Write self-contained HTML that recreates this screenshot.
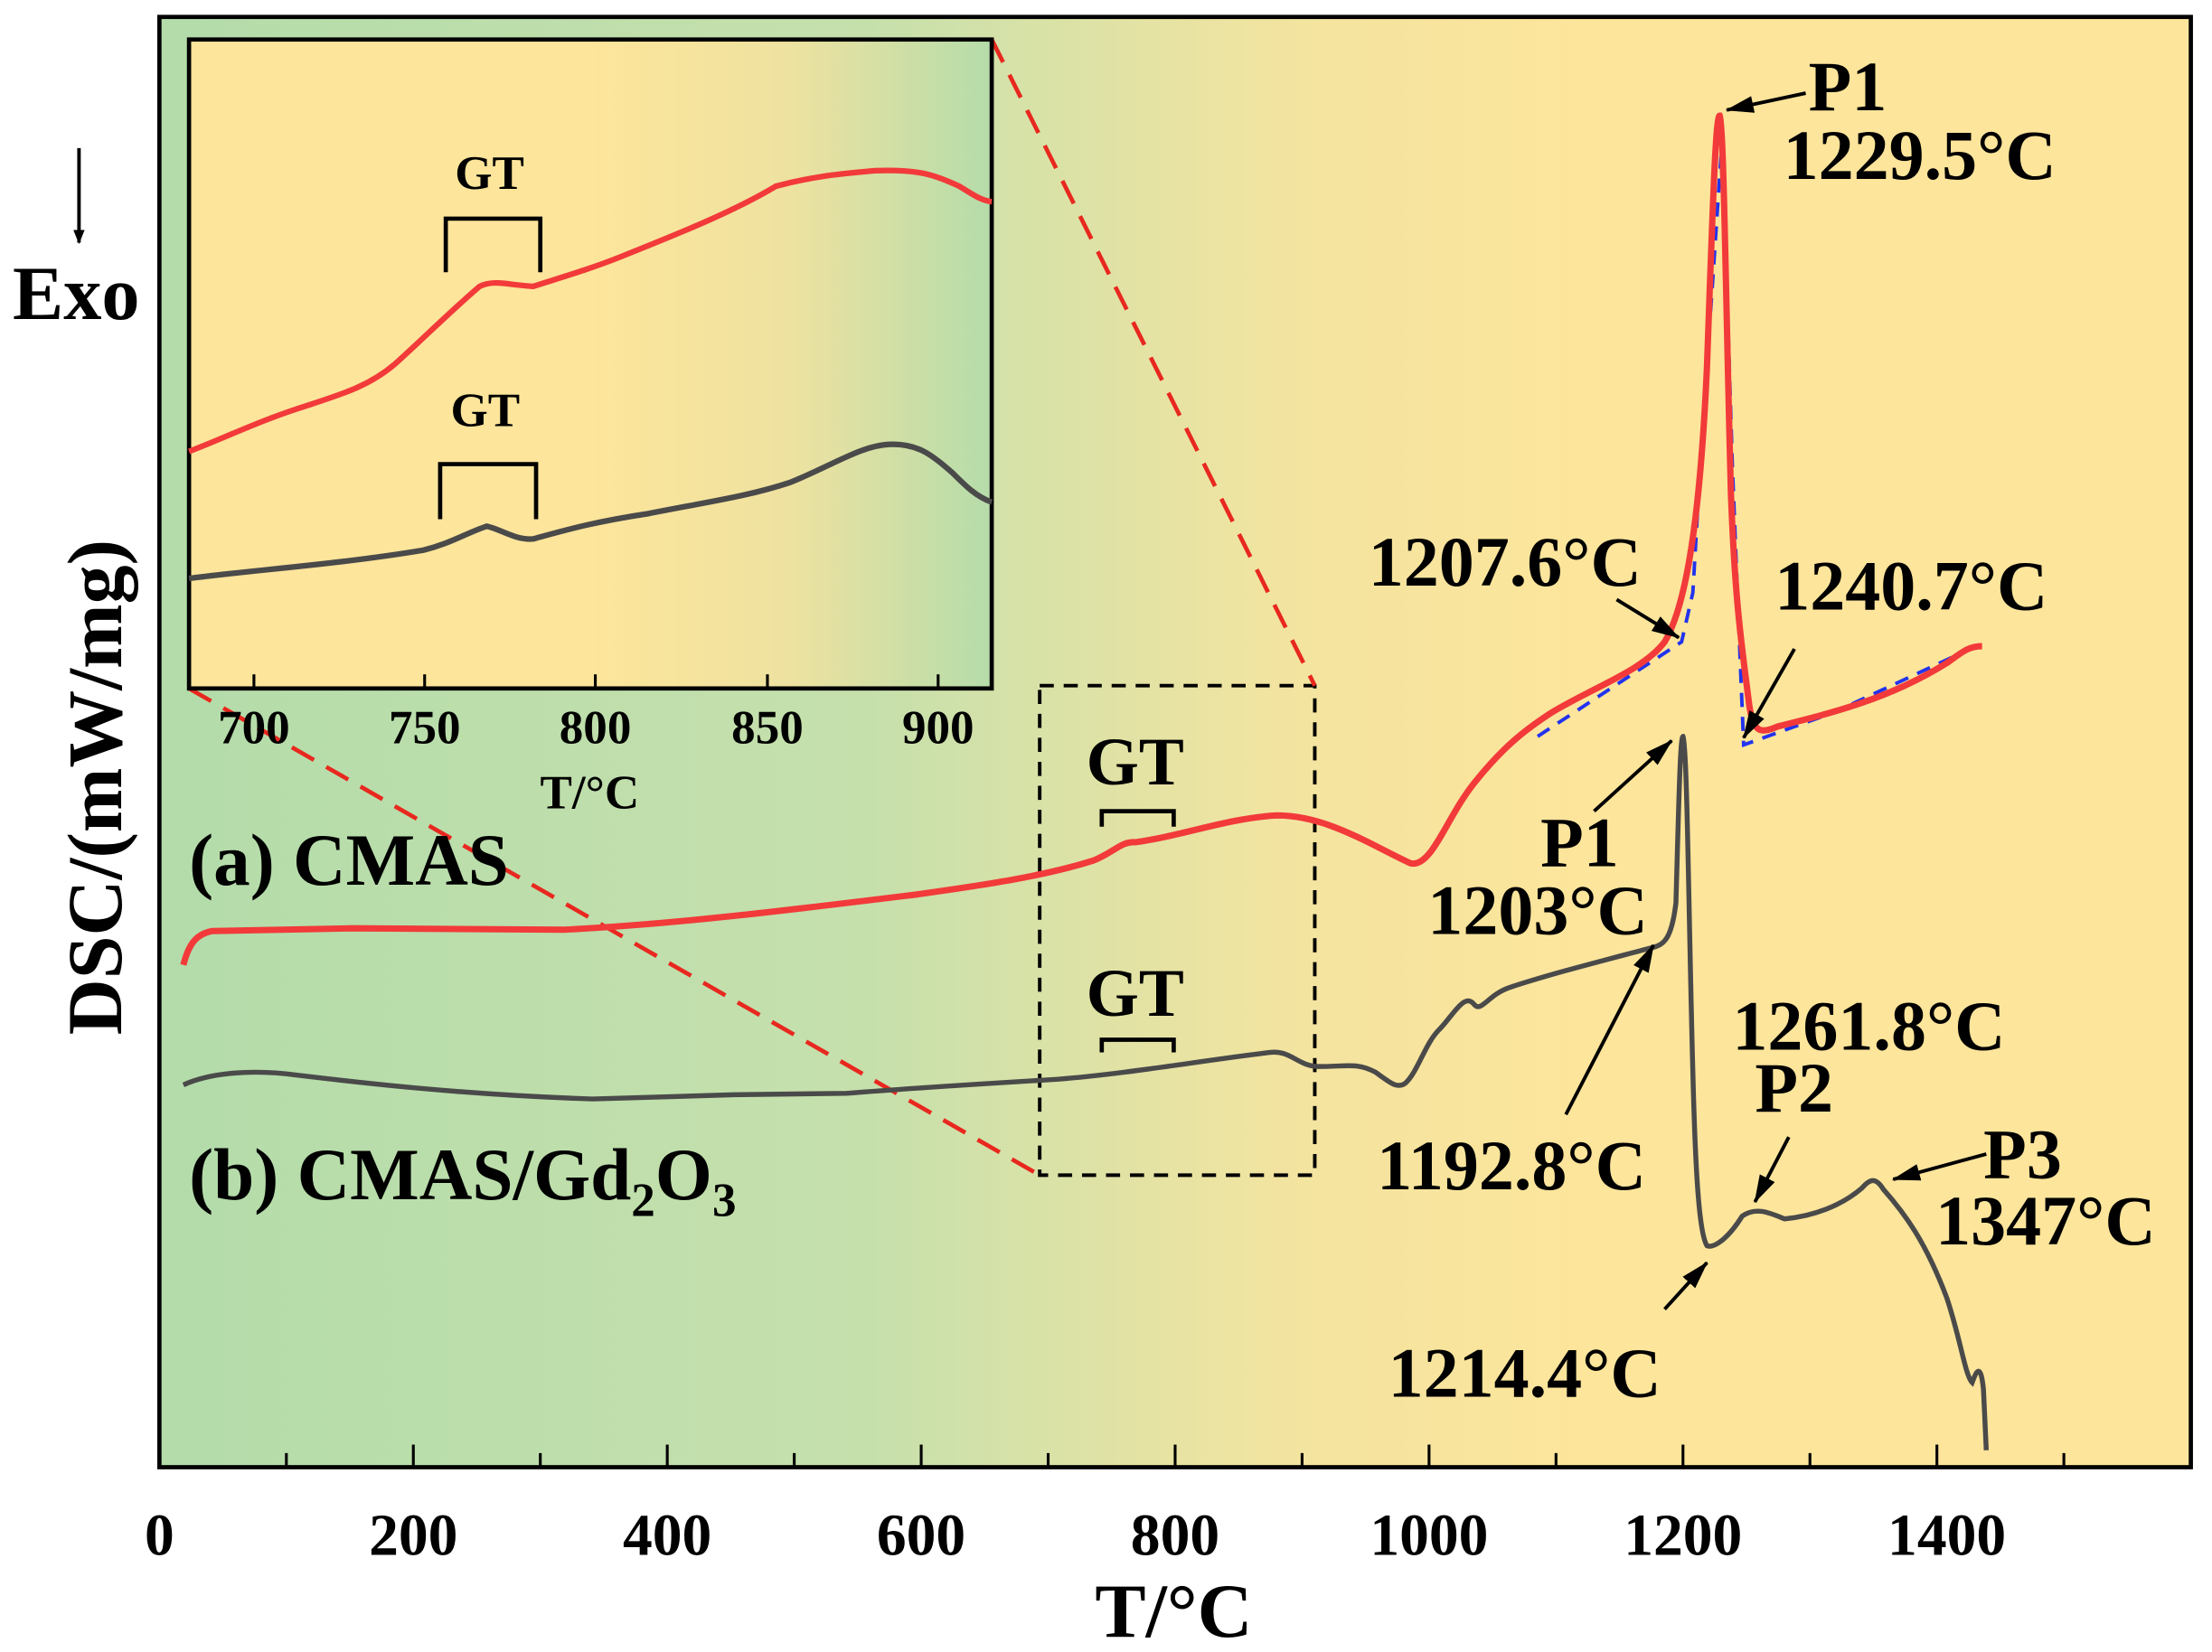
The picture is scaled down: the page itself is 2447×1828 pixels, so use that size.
<!DOCTYPE html>
<html><head><style>html,body{margin:0;padding:0;background:#fff}svg{display:block}</style></head>
<body>
<svg width="2447" height="1828" viewBox="0 0 1568 1171" preserveAspectRatio="none" xmlns="http://www.w3.org/2000/svg" font-family="Liberation Serif, serif" font-weight="bold">
<defs>
<linearGradient id="bg" x1="0" x2="1" y1="0" y2="0">
<stop offset="0" stop-color="#b3dcaa"/><stop offset="0.35" stop-color="#c6e0ac"/><stop offset="0.55" stop-color="#f2e4a0"/><stop offset="0.7" stop-color="#fde59b"/><stop offset="1" stop-color="#fde59b"/>
</linearGradient>
<linearGradient id="ib" x1="0" x2="1" y1="0" y2="0">
<stop offset="0" stop-color="#fde59b"/><stop offset="0.5" stop-color="#fde59b"/><stop offset="0.75" stop-color="#eee2a0"/><stop offset="1" stop-color="#b5dcaa"/>
</linearGradient>
<marker id="ah" markerWidth="10" markerHeight="8" refX="9" refY="4" orient="auto" markerUnits="userSpaceOnUse"><path d="M0,0 L10,4 L0,8 z" fill="#000"/></marker>
<marker id="ah2" viewBox="0 0 20 12" markerWidth="20" markerHeight="12" refX="19" refY="6" orient="auto" markerUnits="userSpaceOnUse"><path d="M0,0 L20,6 L0,12 z" fill="#000"/></marker>
</defs>
<rect x="113" y="12" width="1440" height="1028" fill="url(#bg)" stroke="#000" stroke-width="3"/>
<g stroke="#000" stroke-width="2">
<line x1="203" y1="1040" x2="203" y2="1030"/><line x1="293" y1="1040" x2="293" y2="1024"/><line x1="383" y1="1040" x2="383" y2="1030"/><line x1="473" y1="1040" x2="473" y2="1024"/><line x1="563" y1="1040" x2="563" y2="1030"/><line x1="653" y1="1040" x2="653" y2="1024"/><line x1="743" y1="1040" x2="743" y2="1030"/><line x1="833" y1="1040" x2="833" y2="1024"/><line x1="923" y1="1040" x2="923" y2="1030"/><line x1="1013" y1="1040" x2="1013" y2="1024"/><line x1="1103" y1="1040" x2="1103" y2="1030"/><line x1="1193" y1="1040" x2="1193" y2="1024"/><line x1="1283" y1="1040" x2="1283" y2="1030"/><line x1="1373" y1="1040" x2="1373" y2="1024"/><line x1="1463" y1="1040" x2="1463" y2="1030"/>
</g>
<g font-size="42" text-anchor="middle" fill="#000">
<text x="113" y="1102">0</text><text x="293" y="1102">200</text><text x="473" y="1102">400</text><text x="653" y="1102">600</text><text x="833" y="1102">800</text><text x="1013" y="1102">1000</text><text x="1193" y="1102">1200</text><text x="1380" y="1102">1400</text>
<text x="832" y="1160" font-size="54">T/°C</text>
</g>
<text transform="translate(86,558) rotate(-90)" font-size="55" text-anchor="middle">DSC/(mW/mg)</text>
<line x1="56" y1="105" x2="56" y2="172" stroke="#000" stroke-width="2.5" marker-end="url(#ah)"/>
<text x="54" y="226" font-size="54" text-anchor="middle">Exo</text>

<rect x="737" y="486" width="195" height="347" fill="none" stroke="#000" stroke-width="2.5" stroke-dasharray="10,7"/>
<line x1="703" y1="28" x2="932" y2="486" stroke="#e8281f" stroke-width="3" stroke-dasharray="18,10"/>
<line x1="134" y1="488" x2="737" y2="833" stroke="#e8281f" stroke-width="3" stroke-dasharray="18,10"/>

<polyline points="1090,522 1192,455 1200,420 1207,300 1214,200 1220,110 1224,200 1228,330 1232,430 1236,528 1300,505 1405,456" fill="none" stroke="#2233ee" stroke-width="2.5" stroke-dasharray="10,7"/>
<path d="M130,684 C134,668 140,662 150,660 L250,658 L400,659 C480,655 560,645 650,634 C700,627 740,621 775,610 C790,604 795,596 805,597 C840,592 870,580 905,578 C940,578 970,598 1000,612 C1015,615 1025,580 1045,555 C1065,530 1080,518 1100,505 C1130,487 1165,475 1180,455 C1195,430 1205,370 1210,260 C1214,150 1216,82 1219,82 C1222,90 1223,200 1227,350 C1230,430 1235,460 1240,500 C1243,520 1248,520 1260,515 C1300,505 1340,495 1380,470 C1390,463 1395,458 1405,458" fill="none" stroke="#f23a3a" stroke-width="4.5"/>
<path d="M130,769 C150,760 180,758 210,762 C260,768 330,776 420,779 L520,776 L600,775 C650,771 700,768 750,765 C800,761 850,752 900,746 C915,744 920,756 935,756 C955,756 962,753 975,760 C985,767 990,772 996,768 C1005,760 1010,740 1020,730 C1030,720 1038,703 1045,712 C1050,718 1055,705 1070,700 C1100,690 1140,680 1170,672 C1180,670 1185,665 1188,640 C1190,570 1191,522 1193,522 C1196,528 1197,650 1200,760 C1202,840 1205,875 1210,883 C1215,885 1225,878 1235,862 C1245,855 1255,860 1265,864 C1285,862 1305,855 1320,842 C1326,835 1330,835 1335,843 C1350,860 1365,880 1380,920 C1390,950 1393,975 1398,980 C1401,972 1404,965 1406,985 L1408,1028" fill="none" stroke="#4a4a4a" stroke-width="3.5"/>
<path d="M781,586 L781,575 L832,575 L832,586" fill="none" stroke="#000" stroke-width="3"/>
<path d="M781,746 L781,737 L832,737 L832,746" fill="none" stroke="#000" stroke-width="3"/>
<g font-size="50" fill="#000">
<text x="770" y="556" font-size="48">GT</text>
<text x="770" y="720" font-size="48">GT</text>
<text x="134" y="627" font-size="52">(a) CMAS</text>
<text x="134" y="850" font-size="52">(b) CMAS/Gd<tspan font-size="34" dy="12">2</tspan><tspan dy="-12">O</tspan><tspan font-size="34" dy="12">3</tspan></text>
<text x="1282" y="78">P1</text>
<text x="1264" y="127">1229.5°C</text>
<text x="970" y="415">1207.6°C</text>
<text x="1258" y="432">1240.7°C</text>
<text x="1092" y="614">P1</text>
<text x="1012" y="662">1203°C</text>
<text x="976" y="843">1192.8°C</text>
<text x="1228" y="744">1261.8°C</text>
<text x="1244" y="788">P2</text>
<text x="1406" y="835">P3</text>
<text x="1372" y="882">1347°C</text>
<text x="984" y="990">1214.4°C</text>
</g>
<g stroke="#000" stroke-width="2.5" marker-end="url(#ah2)">
<line x1="1280" y1="66" x2="1224" y2="78"/>
<line x1="1146" y1="425" x2="1190" y2="452"/>
<line x1="1272" y1="460" x2="1236" y2="523"/>
<line x1="1130" y1="575" x2="1185" y2="525"/>
<line x1="1110" y1="790" x2="1172" y2="670"/>
<line x1="1268" y1="806" x2="1244" y2="852"/>
<line x1="1408" y1="818" x2="1342" y2="836"/>
<line x1="1180" y1="928" x2="1210" y2="895"/>
</g>

<rect x="134" y="28" width="569" height="460" fill="url(#ib)" stroke="#000" stroke-width="3"/>
<path d="M134,320 C160,310 180,300 210,290 C240,280 260,275 280,258 C300,240 320,220 340,203 C350,198 360,202 378,203 C400,196 420,190 440,182 C480,166 520,150 550,132 C580,124 600,123 620,121 C650,120 660,123 680,132 C690,138 695,142 703,143" fill="none" stroke="#f23a3a" stroke-width="4"/>
<path d="M134,410 C180,404 240,400 300,390 C320,385 330,378 345,373 C355,375 365,383 378,382 C400,376 420,370 460,364 C500,356 530,352 560,342 C590,330 610,316 630,315 C650,314 660,322 675,335 C685,345 692,352 703,356" fill="none" stroke="#4a4a4a" stroke-width="4"/>
<path d="M316,193 L316,155 L383,155 L383,193" fill="none" stroke="#000" stroke-width="3"/>
<path d="M312,368 L312,329 L380,329 L380,368" fill="none" stroke="#000" stroke-width="3"/>
<g font-size="34" fill="#000" text-anchor="middle">
<text x="347" y="134">GT</text>
<text x="344" y="302">GT</text>
<text x="180" y="527">700</text><text x="301" y="527">750</text><text x="422" y="527">800</text><text x="544" y="527">850</text><text x="665" y="527">900</text>
<text x="418" y="573">T/°C</text>
</g>
<g stroke="#000" stroke-width="2">
<line x1="180" y1="488" x2="180" y2="478"/><line x1="301" y1="488" x2="301" y2="478"/><line x1="422" y1="488" x2="422" y2="478"/><line x1="544" y1="488" x2="544" y2="478"/><line x1="665" y1="488" x2="665" y2="478"/>
</g>
</svg>
</body></html>
